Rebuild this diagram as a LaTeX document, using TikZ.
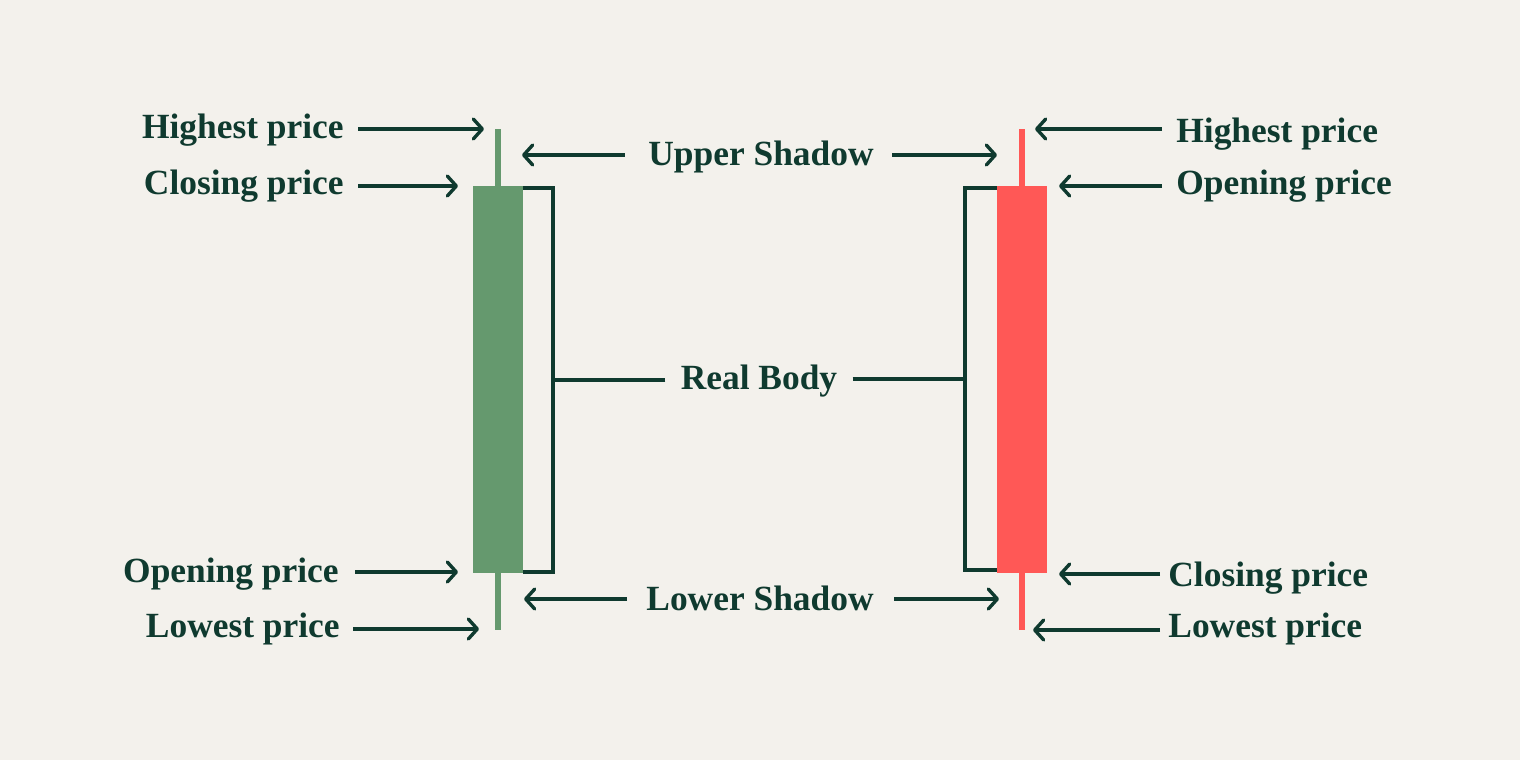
\documentclass[tikz,border=0pt]{standalone}
\usepackage{fontspec}
\setmainfont{Liberation Serif}
\usetikzlibrary{arrows.meta}
\definecolor{bg}{HTML}{F3F1EC}
\definecolor{ink}{HTML}{0F3A2F}
\definecolor{candG}{HTML}{65996E}
\definecolor{candR}{HTML}{FF5856}
\tikzset{
  lbl/.style={font=\bfseries\fontsize{17.7}{20}\selectfont, text=ink, inner sep=0pt},
  arr/.style={draw=ink, line width=1.7pt, -{Straight Barb[length=4.5pt,width=10pt,line cap=round,line join=round]}},
  brk/.style={draw=ink, line width=1.6pt},
}
\begin{document}
\begin{tikzpicture}[x=0.5pt,y=-0.5pt]
\fill[bg] (0,0) rectangle (1520,760);
\useasboundingbox (0,0) rectangle (1520,760);
% green candle
\fill[candG] (495,129) rectangle (501,630);
\fill[candG] (473,186) rectangle (523,573);
% red candle
\fill[candR] (1019,129) rectangle (1025,630);
\fill[candR] (997,186) rectangle (1047,573);
% brackets
\draw[brk] (523,188) -- (553,188) -- (553,572) -- (523,572);
\draw[brk] (997,188) -- (965,188) -- (965,570) -- (997,570);
% coordinates
\coordinate (gH) at (484,129);
\coordinate (gC) at (458,186);
\coordinate (gO) at (458,572);
\coordinate (gL) at (479,629);
\coordinate (rH) at (1035,129);
\coordinate (rO) at (1059,186);
\coordinate (rC) at (1059,574);
\coordinate (rL) at (1033,630);
\coordinate (usL) at (522,155);
\coordinate (usR) at (997,155);
\coordinate (lsL) at (524,599);
\coordinate (lsR) at (999,599);
\coordinate (bL) at (553,380);
\coordinate (bR) at (965,379);
% left labels
\node[lbl, anchor=east] (tgH) at (344,130) {Highest price};
\node[lbl, anchor=east] (tgC) at (344,186) {Closing price};
\node[lbl, anchor=east] (tgO) at (339,574) {Opening price};
\node[lbl, anchor=east] (tgL) at (340,629) {Lowest price};
% right labels
\node[lbl, anchor=west] (trH) at (1176,134) {Highest price};
\node[lbl, anchor=west] (trO) at (1176,186) {Opening price};
\node[lbl, anchor=west] (trC) at (1168,578) {Closing price};
\node[lbl, anchor=west] (trL) at (1168,629) {Lowest price};
% middle labels
\node[lbl] (us) at (761,157) {Upper Shadow};
\node[lbl] (rb) at (759,381) {Real Body};
\node[lbl] (ls) at (760,598) {Lower Shadow};
% arrows
\draw[arr] (tgH.east) ++(14,-1) coordinate (a1) -- (gH);
\draw[arr] (tgC.east) ++(14,0) coordinate (a2) -- (gC);
\draw[arr] (tgO.east) ++(16,-2) coordinate (a3) -- (gO);
\draw[arr] (tgL.east) ++(13,0) coordinate (a4) -- (gL);
\draw[arr] (trH.west) ++(-14,-5) coordinate (a5) -- (rH);
\draw[arr] (trO.west) ++(-14,0) coordinate (a6) -- (rO);
\draw[arr] (trC.west) ++(-8,-4) coordinate (a7) -- (rC);
\draw[arr] (trL.west) ++(-8,1) coordinate (a8) -- (rL);
\draw[arr] (us.west) ++(-23,-2) coordinate (a9) -- (usL);
\draw[arr] (us.east) ++(18,-2) coordinate (a10) -- (usR);
\draw[arr] (ls.west) ++(-19,1) coordinate (a11) -- (lsL);
\draw[arr] (ls.east) ++(20,1) coordinate (a12) -- (lsR);
\draw[brk] (rb.west) ++(-15,-1) coordinate (a13) -- (bL);
\draw[brk] (rb.east) ++(15,-2) coordinate (a14) -- (bR);
\end{tikzpicture}
\end{document}
